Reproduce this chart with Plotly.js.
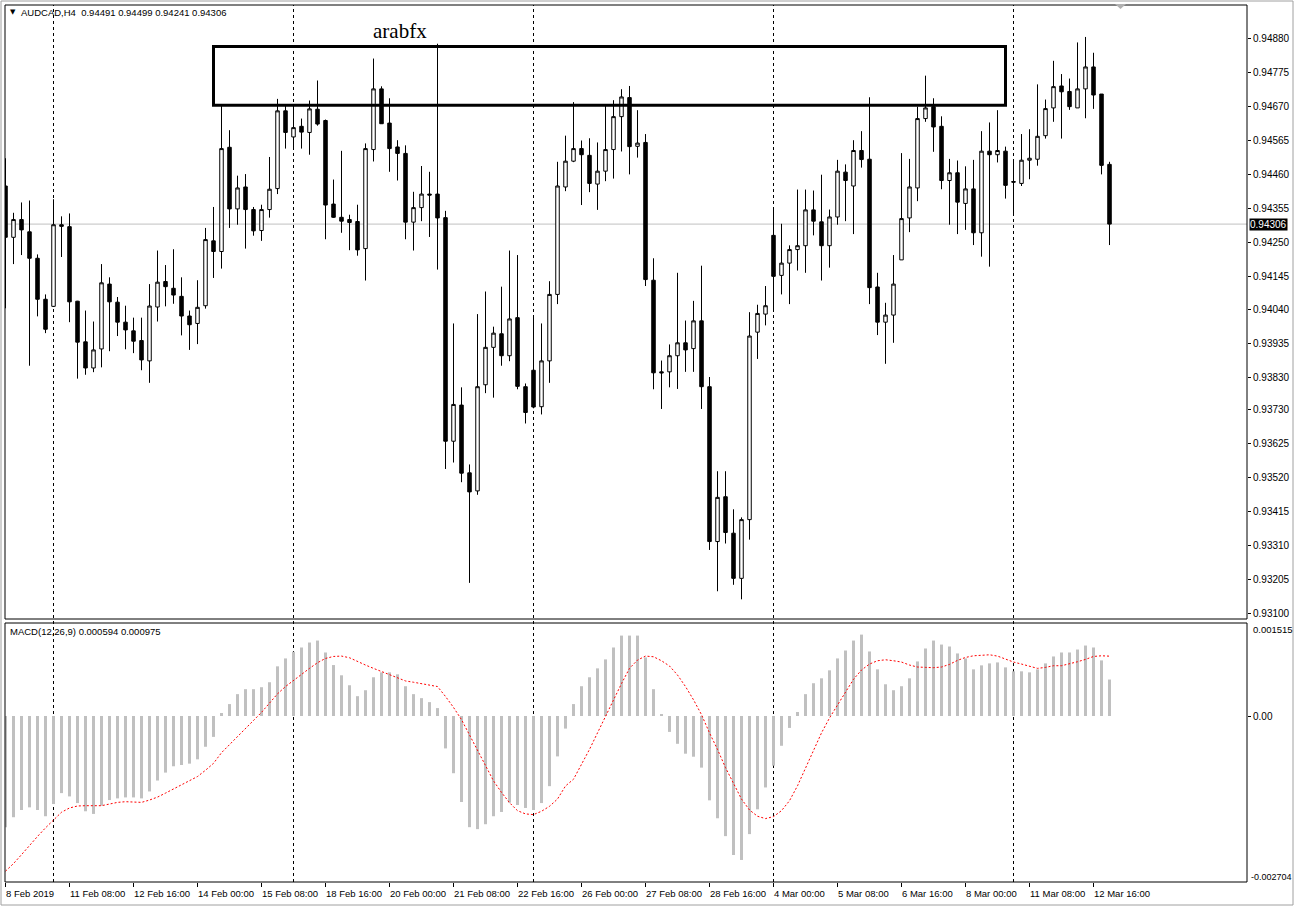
<!DOCTYPE html>
<html>
<head>
<meta charset="utf-8">
<script src="https://cdn.plot.ly/plotly-3.0.1.min.js"></script>
<style>html,body{margin:0;padding:0;background:#fff;}#chart{width:1295px;height:907px;}</style>
</head>
<body>
<div id="chart"></div>
<script>
// ---- Data: AUDCAD H4 candles (8 Feb 2019 .. 13 Mar 2019) ----
const symbol = 'AUDCAD,H4';
const openP = [0.94424,0.94265,0.94320,0.94282,0.94200,0.94073,0.94051,0.94304,0.94298,0.94067,
0.93941,0.93860,0.93919,0.94120,0.94064,0.94002,0.93975,0.93945,0.93882,0.94049,
0.94128,0.94107,0.94082,0.94021,0.93998,0.94053,0.94254,0.94221,0.94544,0.94353,
0.94421,0.94351,0.94286,0.94351,0.94416,0.94657,0.94576,0.94609,0.94590,0.94662,
0.94627,0.94368,0.94327,0.94320,0.94314,0.94230,0.94537,0.94725,0.94619,0.94545,
0.94525,0.94312,0.94357,0.94399,0.94399,0.94326,0.93633,0.93745,0.93535,0.93479,
0.93808,0.93924,0.93966,0.93898,0.94016,0.93802,0.93853,0.93740,0.93882,0.94088,
0.94421,0.94501,0.94540,0.94519,0.94430,0.94470,0.94537,0.94639,0.94698,0.94547,
0.94559,0.94132,0.93848,0.93848,0.93898,0.93938,0.93920,0.94006,0.93802,0.93322,
0.93461,0.93348,0.93208,0.93390,0.93971,0.94027,0.94271,0.94147,0.94185,0.94227,
0.94239,0.94350,0.94313,0.94239,0.94328,0.94467,0.94424,0.94534,0.94507,0.94111,
0.94002,0.94024,0.94195,0.94325,0.94418,0.94633,0.94670,0.94609,0.94441,0.94465,
0.94370,0.94415,0.94279,0.94532,0.94521,0.94532,0.94438,0.94432,0.94504,0.94507,
0.94580,0.94666,0.94734,0.94717,0.94666,0.94725,0.94793,0.94709,0.94491];
const highP = [0.94510,0.94341,0.94373,0.94379,0.94212,0.94088,0.94383,0.94330,0.94339,0.94068,
0.94038,0.94004,0.94182,0.94141,0.94080,0.94053,0.94016,0.94016,0.94120,0.94224,
0.94179,0.94228,0.94141,0.94038,0.94132,0.94294,0.94359,0.94672,0.94597,0.94456,
0.94461,0.94359,0.94366,0.94514,0.94694,0.94672,0.94672,0.94633,0.94689,0.94751,
0.94630,0.94444,0.94533,0.94335,0.94366,0.94556,0.94819,0.94733,0.94696,0.94566,
0.94550,0.94406,0.94486,0.94468,0.94865,0.94347,0.93998,0.93800,0.93561,0.94027,
0.94097,0.93988,0.94112,0.94224,0.94210,0.93812,0.94024,0.93998,0.94129,0.94499,
0.94580,0.94684,0.94565,0.94572,0.94559,0.94672,0.94690,0.94724,0.94734,0.94659,
0.94585,0.94200,0.93883,0.93933,0.94155,0.94007,0.94068,0.94177,0.93832,0.93540,
0.93540,0.93422,0.93397,0.94033,0.94056,0.94114,0.94357,0.94307,0.94240,0.94413,
0.94413,0.94410,0.94459,0.94351,0.94505,0.94491,0.94566,0.94594,0.94699,0.94155,
0.94062,0.94210,0.94526,0.94508,0.94670,0.94766,0.94696,0.94640,0.94508,0.94503,
0.94485,0.94505,0.94594,0.94621,0.94659,0.94546,0.94504,0.94585,0.94600,0.94739,
0.94692,0.94812,0.94771,0.94757,0.94869,0.94886,0.94837,0.94709,0.94499];
const lowP = [0.94045,0.94182,0.94210,0.93867,0.94020,0.93968,0.94049,0.94204,0.94002,0.93827,
0.93839,0.93847,0.93862,0.93912,0.93959,0.93918,0.93906,0.93853,0.93814,0.94004,
0.94051,0.94059,0.93961,0.93916,0.93934,0.94044,0.94139,0.94168,0.94294,0.94304,
0.94230,0.94270,0.94254,0.94326,0.94399,0.94540,0.94539,0.94540,0.94521,0.94611,
0.94259,0.94325,0.94279,0.94225,0.94208,0.94131,0.94500,0.94617,0.94468,0.94441,
0.94259,0.94224,0.94315,0.94266,0.94165,0.93547,0.93567,0.93506,0.93194,0.93467,
0.93782,0.93768,0.93867,0.93881,0.93794,0.93688,0.93735,0.93716,0.93814,0.94058,
0.94408,0.94498,0.94365,0.94405,0.94350,0.94439,0.94447,0.94531,0.94460,0.94512,
0.94114,0.93794,0.93733,0.93800,0.93795,0.93848,0.93848,0.93733,0.93296,0.93168,
0.93316,0.93188,0.93143,0.93328,0.93888,0.93992,0.94035,0.94088,0.94058,0.94162,
0.94155,0.94271,0.94131,0.94171,0.94304,0.94315,0.94275,0.94481,0.94058,0.93962,
0.93873,0.93938,0.94195,0.94281,0.94377,0.94623,0.94530,0.94414,0.94304,0.94275,
0.94288,0.94241,0.94205,0.94174,0.94497,0.94385,0.94331,0.94424,0.94445,0.94487,
0.94571,0.94623,0.94571,0.94660,0.94666,0.94634,0.94663,0.94460,0.94241];
const closeP = [0.94265,0.94320,0.94288,0.94200,0.94073,0.93980,0.94304,0.94299,0.94065,0.93940,
0.93860,0.93916,0.94124,0.94065,0.94002,0.93978,0.93943,0.93885,0.94052,0.94126,
0.94112,0.94086,0.94021,0.93994,0.94048,0.94258,0.94221,0.94540,0.94353,0.94418,
0.94351,0.94285,0.94351,0.94414,0.94657,0.94590,0.94605,0.94591,0.94663,0.94616,
0.94365,0.94327,0.94315,0.94311,0.94226,0.94540,0.94725,0.94617,0.94540,0.94525,
0.94312,0.94357,0.94399,0.94396,0.94325,0.93633,0.93747,0.93534,0.93476,0.93802,
0.93924,0.93968,0.93898,0.94012,0.93803,0.93722,0.93739,0.93882,0.94088,0.94424,
0.94501,0.94540,0.94521,0.94432,0.94470,0.94537,0.94639,0.94700,0.94546,0.94557,
0.94134,0.93845,0.93845,0.93898,0.93938,0.93916,0.94006,0.93802,0.93322,0.93459,
0.93350,0.93208,0.93390,0.93959,0.94029,0.94053,0.94144,0.94185,0.94227,0.94239,
0.94350,0.94315,0.94239,0.94328,0.94470,0.94441,0.94534,0.94506,0.94109,0.94002,
0.94024,0.94120,0.94323,0.94421,0.94633,0.94666,0.94607,0.94441,0.94465,0.94374,
0.94415,0.94279,0.94532,0.94521,0.94534,0.94426,0.94436,0.94504,0.94510,0.94578,
0.94664,0.94732,0.94716,0.94670,0.94725,0.94793,0.94706,0.94488,0.94306];

// MACD(12,26,9): main (histogram) and signal (dotted line)
const macdMain = [-0.001811,-0.001649,-0.001531,-0.001488,-0.001531,-0.001633,-0.001434,-0.001256,-0.00131,-0.001418,
-0.001552,-0.001595,-0.001461,-0.001369,-0.001342,-0.001326,-0.001326,-0.001342,-0.001229,-0.001051,
-0.000922,-0.000819,-0.000798,-0.000776,-0.000706,-0.000501,-0.00034,0.000049,0.000194,0.000356,
0.000437,0.000437,0.000469,0.00055,0.000809,0.000938,0.001046,0.001116,0.001197,0.001229,
0.001035,0.00083,0.000663,0.000501,0.000323,0.00042,0.000631,0.000711,0.000711,0.000679,
0.000485,0.000356,0.000291,0.000226,0.000129,-0.000528,-0.000932,-0.001401,-0.001811,-0.001843,
-0.001763,-0.001633,-0.001563,-0.001412,-0.00145,-0.001498,-0.001531,-0.001418,-0.001143,-0.000658,
-0.000205,0.000194,0.000485,0.000631,0.000776,0.000922,0.001116,0.00131,0.00131,0.00131,
0.000954,0.000437,0.000032,-0.000259,-0.000453,-0.000614,-0.000663,-0.000841,-0.001374,-0.001666,
-0.001957,-0.002264,-0.002345,-0.001924,-0.00152,-0.001164,-0.000809,-0.000485,-0.000194,0.000065,
0.000356,0.000534,0.000614,0.000744,0.000938,0.001067,0.001229,0.001326,0.001051,0.00076,
0.000517,0.00042,0.000485,0.000614,0.000889,0.0011,0.001229,0.001164,0.001132,0.001019,
0.000938,0.00076,0.000825,0.000857,0.000873,0.000792,0.000728,0.000728,0.000711,0.00076,
0.000857,0.00097,0.001035,0.001035,0.001083,0.001148,0.001116,0.000906,0.000594];
const macdSignal = [-0.002528,-0.002404,-0.002259,-0.002107,-0.001962,-0.001822,-0.001687,-0.001568,-0.001498,-0.001466,
-0.001461,-0.001461,-0.001461,-0.001434,-0.001407,-0.001396,-0.001396,-0.001407,-0.001369,-0.001321,
-0.001256,-0.001191,-0.001127,-0.001062,-0.000986,-0.000884,-0.000771,-0.000598,-0.000464,-0.000329,
-0.000205,-0.000076,0.000059,0.00021,0.000361,0.00048,0.000582,0.000685,0.000776,0.000868,
0.000938,0.00097,0.000976,0.000949,0.000884,0.00083,0.000776,0.000722,0.000679,0.000614,
0.000571,0.00055,0.000523,0.000507,0.00048,0.000318,0.00014,-0.000059,-0.000313,-0.000571,
-0.000814,-0.001056,-0.001245,-0.001412,-0.001542,-0.001595,-0.001606,-0.001552,-0.001471,-0.001353,
-0.00114,-0.00103,-0.000787,-0.000544,-0.000275,-0.000005,0.000264,0.000528,0.000776,0.000911,
0.000976,0.000965,0.0009,0.000814,0.000668,0.00048,0.000264,0.000022,-0.000275,-0.000544,
-0.000841,-0.0011,-0.001353,-0.001531,-0.001633,-0.001671,-0.001639,-0.001542,-0.00138,-0.001137,
-0.000852,-0.00055,-0.000275,-0.000032,0.000183,0.000388,0.000598,0.000749,0.000846,0.0009,
0.000916,0.0009,0.000879,0.00083,0.000798,0.000792,0.000787,0.000798,0.000841,0.000906,
0.000954,0.000981,0.000992,0.000997,0.000976,0.000922,0.000879,0.000846,0.000814,0.000776,
0.000792,0.000819,0.000819,0.000846,0.000884,0.000922,0.00097,0.000981,0.000975];

// Time axis labels (bar index -> label)
const timeLabelIdx = [0,8,16,24,32,40,48,56,64,72,80,88,96,104,112,120,128,136];
const timeLabels = ['8 Feb 2019','11 Feb 08:00','12 Feb 16:00','14 Feb 00:00','15 Feb 08:00','18 Feb 16:00',
'20 Feb 00:00','21 Feb 08:00','22 Feb 16:00','26 Feb 00:00','27 Feb 08:00','28 Feb 16:00','4 Mar 00:00',
'5 Mar 08:00','6 Mar 16:00','8 Mar 00:00','11 Mar 08:00','12 Mar 16:00'];
const gridIdx = [6,36,66,96,126];

// Price axis labels
const priceLabels = ['0.94880','0.94775','0.94670','0.94565','0.94460','0.94355','0.94250','0.94145','0.94040',
'0.93935','0.93830','0.93730','0.93625','0.93520','0.93415','0.93310','0.93205','0.93100'];
const macdLabels = ['0.001515','0.00','-0.002704'];

// Drawn objects
const zoneStart = 26, zoneEnd = 125, zoneLow = 0.94674, zoneHigh = 0.94856;
const markText = 'arabfx', markIdx = 49.3, markPrice = 0.94904;

// ---- Layout geometry ----
const W = 1295, H = 907, ML = 5, MR = 48, MT = 5, MB = 25;
const PW = W - ML - MR, PH = H - MT - MB;
const px = x => (x - ML) / PW;
const py = y => (H - MB - y) / PH;

const idx = closeP.map((_, i) => i);
const n = closeP.length;
const lastC = closeP[n - 1];
const font = 'Liberation Sans, Arial, sans-serif';

const traces = [
  {
    type: 'candlestick', x: idx, open: openP, high: highP, low: lowP, close: closeP,
    xaxis: 'x', yaxis: 'y', hoverinfo: 'skip', whiskerwidth: 0,
    increasing: {line: {color: '#000000', width: 1}, fillcolor: '#FFFFFF'},
    decreasing: {line: {color: '#000000', width: 1}, fillcolor: '#000000'},
    showlegend: false
  },
  {
    type: 'bar', x: idx, y: macdMain, xaxis: 'x', yaxis: 'y2', width: 0.375,
    marker: {color: '#C0C0C0', line: {width: 0}}, hoverinfo: 'skip', showlegend: false
  },
  {
    type: 'scatter', mode: 'lines', x: idx, y: macdSignal, xaxis: 'x', yaxis: 'y2',
    line: {color: '#FF0000', width: 1, dash: '2px,2px'}, hoverinfo: 'skip', showlegend: false
  }
];

const shapes = [];
// vertical dotted grid
gridIdx.forEach(g => shapes.push({type: 'line', xref: 'x', yref: 'paper', x0: g, x1: g, y0: 0, y1: 1,
  line: {color: '#000000', width: 1, dash: '3px,3px'}, layer: 'below'}));
// bid line
shapes.push({type: 'line', xref: 'paper', yref: 'y', x0: 0, x1: 1, y0: lastC, y1: lastC,
  line: {color: '#C0C0C0', width: 1}, layer: 'below'});
// pane borders
shapes.push({type: 'rect', xref: 'paper', yref: 'y domain', x0: 0, x1: 1, y0: 0, y1: 1,
  line: {color: '#000000', width: 1}});
shapes.push({type: 'rect', xref: 'paper', yref: 'y2 domain', x0: 0, x1: 1, y0: 0, y1: 1,
  line: {color: '#000000', width: 1}});
// zone rectangle
shapes.push({type: 'rect', xref: 'x', yref: 'y', x0: zoneStart, x1: zoneEnd, y0: zoneLow, y1: zoneHigh,
  line: {color: '#000000', width: 3}, fillcolor: 'rgba(0,0,0,0)'});
// window frame
shapes.push({type: 'rect', xref: 'paper', yref: 'paper', x0: px(1), x1: px(1293), y0: py(905), y1: py(1),
  line: {color: '#A0A0A0', width: 1}});
// chart shift marker
shapes.push({type: 'path', xref: 'paper', yref: 'paper',
  path: `M ${px(1115)} ${py(4)} L ${px(1126)} ${py(4)} L ${px(1120.5)} ${py(9)} Z`,
  fillcolor: '#B0B0B0', line: {width: 0}});

const annotations = [];
annotations.push({xref: 'paper', yref: 'paper', x: px(8), y: py(12), xanchor: 'left', yanchor: 'middle',
  text: '▼', showarrow: false, font: {family: 'DejaVu Sans', size: 7, color: '#000'}});
annotations.push({xref: 'paper', yref: 'paper', x: px(19), y: py(12), xanchor: 'left', yanchor: 'middle',
  text: symbol + '  ' + [openP[n-1], highP[n-1], lowP[n-1], closeP[n-1]].map(v => v.toFixed(5)).join(' '),
  showarrow: false, font: {family: font, size: 9.5, color: '#000'}});
annotations.push({xref: 'paper', yref: 'paper', x: px(8), y: py(631), xanchor: 'left', yanchor: 'middle',
  text: 'MACD(12,26,9) ' + macdMain[n-1].toFixed(6) + ' ' + macdSignal[n-1].toFixed(6),
  showarrow: false, font: {family: font, size: 9.5, color: '#000'}});
annotations.push({xref: 'x', yref: 'y', x: markIdx, y: markPrice, text: markText, showarrow: false,
  xanchor: 'center', yanchor: 'middle', font: {family: 'Liberation Serif, Times New Roman, serif', size: 21, color: '#000'}});
// current price box
annotations.push({xref: 'paper', yref: 'y', x: 1, y: lastC, xanchor: 'left', yanchor: 'middle', xshift: 2,
  text: lastC.toFixed(5), showarrow: false, bgcolor: '#000000', borderpad: 0,
  font: {family: font, size: 10, color: '#FFFFFF'}});
// macd extreme labels
annotations.push({xref: 'paper', yref: 'paper', x: 1, y: py(629), xanchor: 'left', yanchor: 'middle', xshift: 4,
  text: macdLabels[0], showarrow: false, font: {family: font, size: 9.5, color: '#000'}});
annotations.push({xref: 'paper', yref: 'paper', x: 1, y: py(877), xanchor: 'left', yanchor: 'middle', xshift: 2,
  text: macdLabels[2], showarrow: false, font: {family: font, size: 9, color: '#000'}});
// time labels
timeLabelIdx.forEach((t, k) => annotations.push({xref: 'x', yref: 'paper', x: t, y: py(893), xanchor: 'left',
  yanchor: 'middle', xshift: -2, text: timeLabels[k], showarrow: false,
  font: {family: font, size: 9.5, color: '#000'}}));

const layout = {
  width: W, height: H,
  margin: {l: ML, r: MR, t: MT, b: MB, pad: 0},
  paper_bgcolor: '#FFFFFF', plot_bgcolor: '#FFFFFF',
  showlegend: false, boxgap: 0.375, dragmode: false, hovermode: false,
  xaxis: {anchor: 'y2', range: [-0.0625, 155.1875], showgrid: false, zeroline: false, showline: false,
    tickmode: 'array', tickvals: timeLabelIdx, showticklabels: false, ticks: 'outside', ticklen: 4,
    tickcolor: '#000', tickwidth: 1, rangeslider: {visible: false}, fixedrange: true},
  yaxis: {domain: [py(619), 1], anchor: 'x', side: 'right', range: [0.93082, 0.94985],
    showgrid: false, zeroline: false, showline: false, tickmode: 'array',
    tickvals: priceLabels.map(Number), ticktext: priceLabels, ticks: 'outside', ticklen: 3,
    tickcolor: '#000', tickwidth: 1, tickfont: {family: font, size: 10, color: '#000'}, fixedrange: true},
  yaxis2: {domain: [0, py(623)], anchor: 'x', side: 'right', range: [-0.002704, 0.001515],
    showgrid: false, zeroline: false, showline: false, tickmode: 'array',
    tickvals: [Number(macdLabels[1])], ticktext: [macdLabels[1]], ticks: 'outside', ticklen: 3,
    tickcolor: '#000', tickwidth: 1, tickfont: {family: font, size: 10, color: '#000'}, fixedrange: true},
  shapes: shapes,
  annotations: annotations
};

Plotly.newPlot('chart', traces, layout, {displayModeBar: false, staticPlot: true});
</script>
</body>
</html>
